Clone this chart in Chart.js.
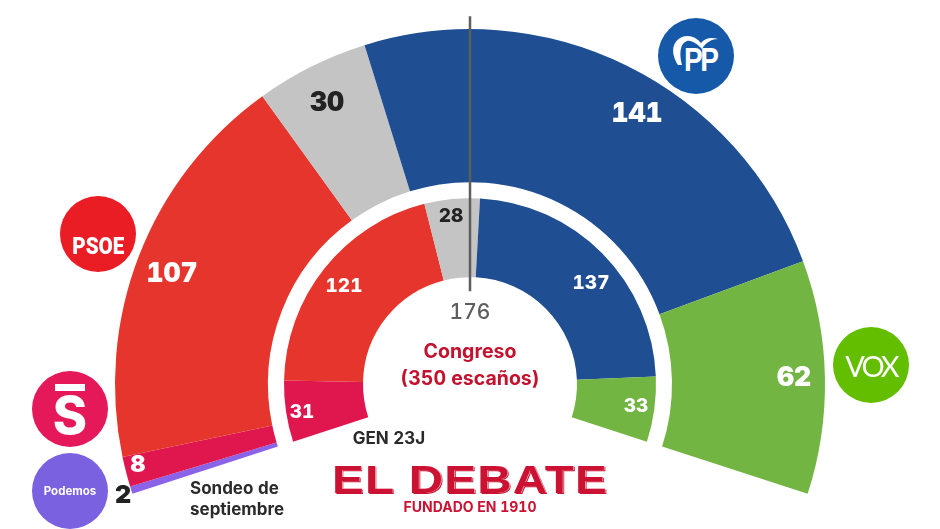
<!DOCTYPE html>
<html lang="es">
<head>
<meta charset="utf-8">
<title>Sondeo de septiembre - Congreso</title>
<script src="https://cdn.jsdelivr.net/npm/chart.js@4"></script>
<style>
  html, body { margin: 0; padding: 0; background: #fff; }
  #wrap { position: relative; width: 940px; height: 529px; overflow: hidden; font-family: Inter, Roboto, sans-serif; font-variant-numeric: tabular-nums; }
  #seats { position: absolute; left: 0; top: 0; }
  .lbl { position: absolute; transform: translate(-50%, -50%); white-space: nowrap; font-weight: 900; line-height: 1; }
  .logo { position: absolute; width: 76px; height: 76px; border-radius: 50%; transform: translate(-50%, -50%); color: #fff;
          display: flex; align-items: center; justify-content: center; font-weight: 700; box-sizing: border-box; }
  #debate { position: absolute; left: 470px; top: 480px; transform: translate(-50%, -50%) scaleX(1.25); transform-origin: center;
            font: 700 38px "Liberation Sans", sans-serif; color: #cb1233; letter-spacing: 1px; white-space: nowrap;
            text-shadow: 0.6px 0.8px 0 #f6b8bf, 1.1px 1.6px 0 #cb1233; }
</style>
</head>
<body>
<div id="wrap">
  <canvas id="seats" width="940" height="529"></canvas>

  <div class="logo" style="left:696px;top:56px;background:#1659a8;">
    <svg width="76" height="76" viewBox="0 0 76 76" style="position:absolute;left:0;top:0">
      <path d="M20 47 C13 36 13 24 24 19 C32 16 39 20 43 25 C47 20 53 19 60 21 C54 21 48 24 44 31 C39 26 34 22 29 23 C22 25 21 36 24 47 Z" fill="#fff"/>
    </svg>
    <span style="position:absolute;left:26px;top:25px;font:700 33px/1 'Liberation Sans';letter-spacing:-3px;display:inline-block;transform:scaleX(0.85);transform-origin:left top">PP</span>
  </div>
  <div class="logo" style="left:98px;top:234px;background:#ea1c24;padding-top:24px"><span style="font:900 24px/1 Roboto;display:inline-block;transform:scaleX(0.86)">PSOE</span></div>
  <div class="logo" style="left:871px;top:365px;background:#63be00;font:400 29px Lato;letter-spacing:-3px">VOX</div>
  <div class="logo" style="left:70px;top:409px;background:#e5185a;font:800 52px/1 Inter;padding-top:14px">
    <span style="position:absolute;left:23px;top:13px;width:30px;height:7px;background:#fff"></span>S
  </div>
  <div class="logo" style="left:70px;top:491px;background:#7a61e0;font:700 11.5px Inter">Podemos</div>

  <div id="debate">EL DEBATE</div>
</div>

<script>
// --- Data ---
const parties = ["Podemos", "Sumar", "PSOE", "Otros", "PP", "Vox"];
const pollSeats = [2, 8, 107, 30, 141, 62];
const pollColors = ["#8a63e8", "#e0174f", "#e5352d", "#c4c4c4", "#1f4e92", "#72b543"];

const electionParties = ["Sumar", "PSOE", "Otros", "PP", "Vox"];
const electionSeats = [31, 121, 28, 137, 33];
const electionColors = ["#e0174f", "#e5352d", "#c4c4c4", "#1f4e92", "#72b543"];

const majorityMark = 176;
const totalSeats = 350;

// --- Majority line on top of the rings ---
const majorityLine = {
  id: "majorityLine",
  afterDatasetsDraw(c) {
    const arc = c.getDatasetMeta(0).data[0];
    const ctx = c.ctx;
    ctx.save();
    ctx.strokeStyle = "#5e5e5e";
    ctx.lineWidth = 2.5;
    ctx.beginPath();
    ctx.moveTo(arc.x, arc.y - 368);
    ctx.lineTo(arc.x, arc.y - 93);
    ctx.stroke();
    ctx.restore();
  }
};

const chart = new Chart(document.getElementById("seats"), {
  type: "doughnut",
  data: {
    labels: parties,
    datasets: [
      { label: "Sondeo de septiembre", data: pollSeats, backgroundColor: pollColors, borderWidth: 0, weight: 153 },
      { label: "", data: [totalSeats], backgroundColor: "rgba(0,0,0,0)", borderWidth: 0, weight: 16 },
      { label: "GEN 23J", data: electionSeats, backgroundColor: electionColors, borderWidth: 0, weight: 79 }
    ]
  },
  options: {
    responsive: false,
    animation: false,
    rotation: -108,
    circumference: 216,
    radius: 355,
    cutout: "30.14%",
    layout: { padding: { bottom: 6 } },
    plugins: { legend: { display: false }, tooltip: { enabled: false } }
  },
  plugins: [majorityLine]
});

// --- Text labels ---
const wrap = document.getElementById("wrap");

function addLabel(text, x, y, size, color, weight, anchorLeft) {
  const el = document.createElement("div");
  el.className = "lbl";
  el.textContent = text;
  el.style.left = x + "px";
  el.style.top = y + "px";
  el.style.fontSize = size + "px";
  el.style.color = color;
  if (weight) el.style.fontWeight = weight;
  if (anchorLeft) el.style.transform = "translateY(-50%)";
  wrap.appendChild(el);
}

// outer ring
addLabel(pollSeats[0], 123, 494, 25, "#222");
addLabel(pollSeats[1], 138, 464, 23, "#fff");
addLabel(pollSeats[2], 172, 272, 26.5, "#fff");
addLabel(pollSeats[3], 327, 101, 26.5, "#222");
addLabel(pollSeats[4], 637, 112, 26.5, "#fff");
addLabel(pollSeats[5], 794, 376, 26.5, "#fff");

// inner ring
addLabel(electionSeats[0], 302, 411, 19, "#fff", 800);
addLabel(electionSeats[1], 344, 285, 19, "#fff", 800);
addLabel(electionSeats[2], 451, 215, 19, "#222", 800);
addLabel(electionSeats[3], 591, 282, 19, "#fff", 800);
addLabel(electionSeats[4], 636, 405, 19, "#fff", 800);

addLabel(majorityMark, 470, 311, 21, "#5e5e5e", 500);
addLabel("Congreso", 470, 352, 19.5, "#c3112e", 700);
addLabel("(" + totalSeats + " escaños)", 470, 379, 19.5, "#c3112e", 700);
addLabel("GEN 23J", 389, 438, 17, "#2a2a2a", 700);
addLabel("Sondeo de", 190, 488, 17, "#2a2a2a", 700, true);
addLabel("septiembre", 190, 509, 17, "#2a2a2a", 700, true);
addLabel("FUNDADO EN 1910", 470, 507, 14, "#cb1233", 700);
</script>
</body>
</html>
